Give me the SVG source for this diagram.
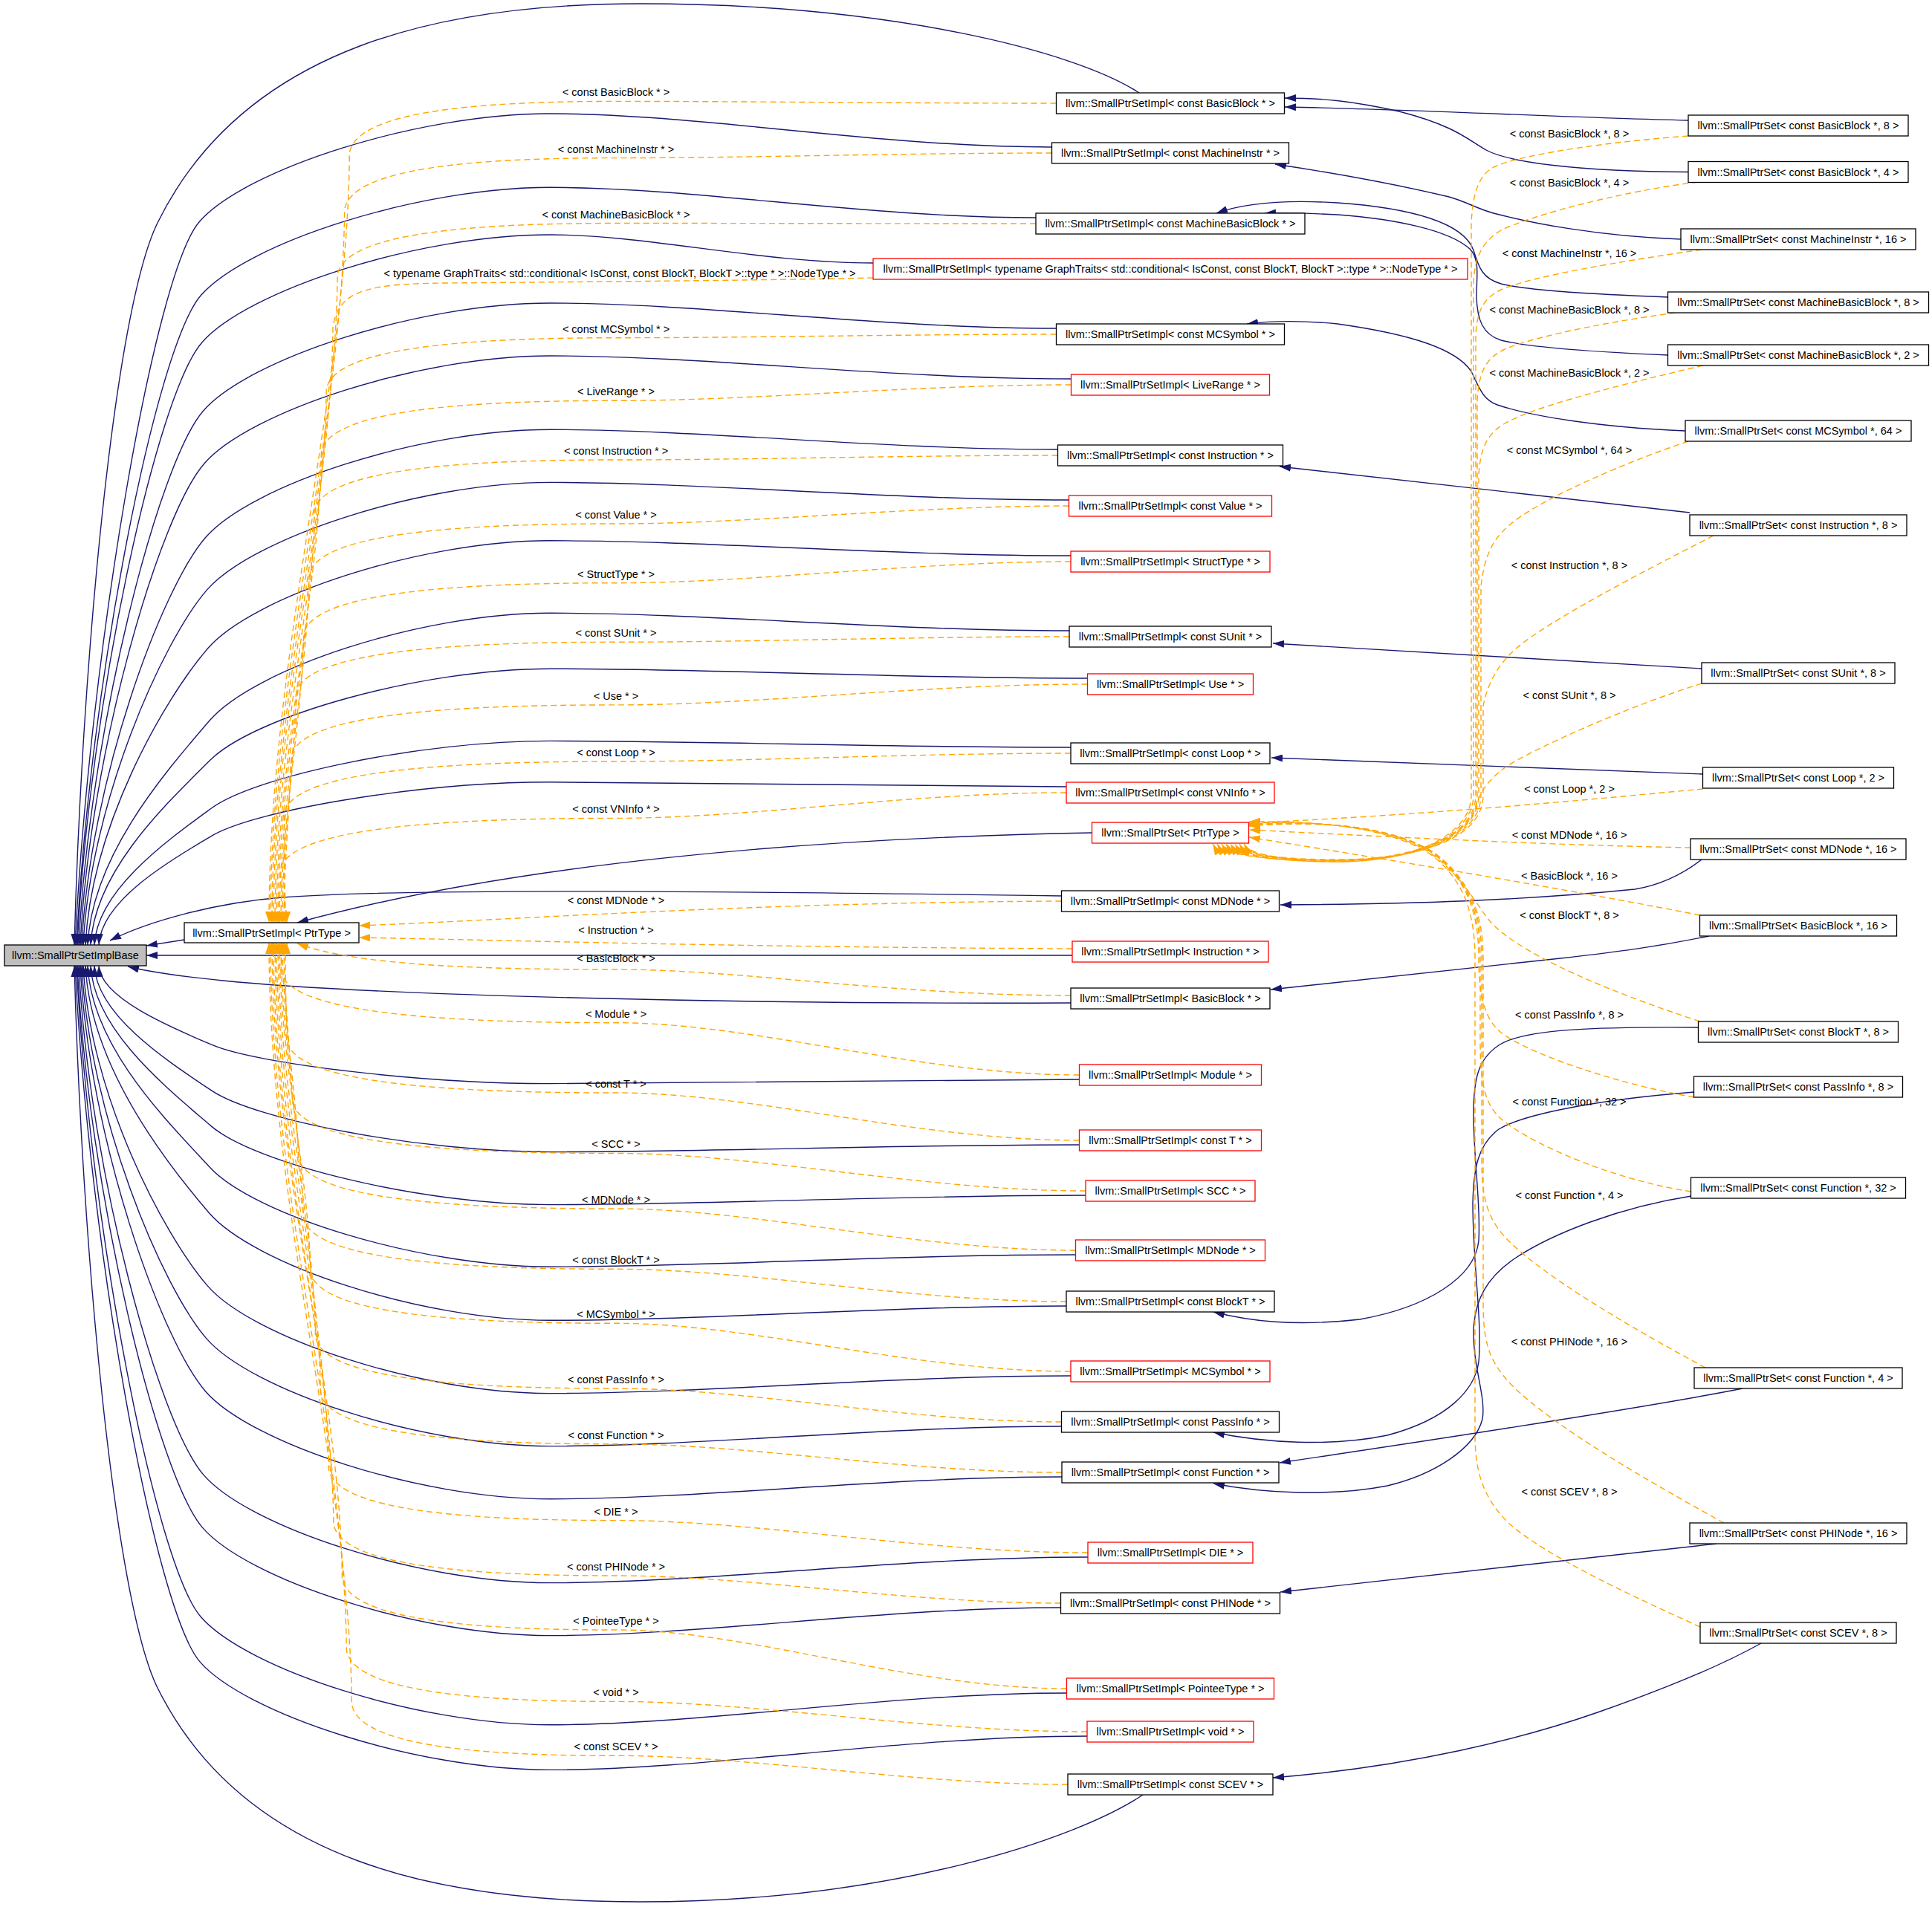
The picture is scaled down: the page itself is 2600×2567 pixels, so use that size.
<svg xmlns="http://www.w3.org/2000/svg" width="2600" height="2567" viewBox="0 0 2600 2567">
<defs>
<marker id="ab" viewBox="0 0 15 10" refX="15" refY="5" markerWidth="15" markerHeight="10" markerUnits="userSpaceOnUse" orient="auto"><path d="M0,0 L15,5 L0,10 z" fill="#191970" stroke="none"/></marker>
<marker id="ao" viewBox="0 0 15 10" refX="15" refY="5" markerWidth="15" markerHeight="10" markerUnits="userSpaceOnUse" orient="auto"><path d="M0,0 L15,5 L0,10 z" fill="#ffa500" stroke="none"/></marker>
<style>
.nd rect{fill:#fff;stroke:#000;stroke-width:1.3}
.nd.r rect{stroke:#ff0000}
.nd.base rect{fill:#bfbfbf}
text{font-family:"Liberation Sans",Arial,sans-serif;font-size:14.5px;text-anchor:middle;fill:#000}
.b{fill:none;stroke:#191970;stroke-width:1.4;marker-end:url(#ab)}
.o{fill:none;stroke:#ffa500;stroke-width:1.4;stroke-dasharray:8,5;marker-end:url(#ao)}
</style>
</defs>
<rect width="2600" height="2567" fill="#fff"/>
<g id="connectors">
<path class="b" d="M 1533,125 C 1450,70 1200,5 861,5 C 600,5 330,60 212,300 C 153,420 110,900 100,1272"/>
<path class="b" d="M 1415.5,198 C 1179,198 942.7,153 740,153 C 560.9,153 330,228.4 268.7,298 C 207.4,367.6 120.5,882.4 101,1272"/>
<path class="b" d="M 1394,293 C 1165,293 936,252.3 740,252.3 C 561.6,252.3 331.6,327.7 270.6,397.3 C 209.6,466.9 120.5,922 103,1272"/>
<path class="b" d="M 1175,354 C 1022.8,354 870.5,316 740,316 C 562.1,316 332.7,391.4 271.8,461 C 210.9,530.6 120.2,947.6 104,1272"/>
<path class="b" d="M 1421.5,442 C 1183,442 944.5,408 740,408 C 562.8,408 334.2,483.4 273.6,553 C 213,622.6 120.4,984.4 106,1272"/>
<path class="b" d="M 1441.5,510 C 1196,510 950.5,479 740,479 C 563.3,479 335.4,554.4 274.9,624 C 214.4,693.6 121,1012.8 108,1272"/>
<path class="b" d="M 1423.5,605 C 1184.3,605 945,578.3 740,578.3 C 564,578.3 337,653.7 276.8,723.3 C 216.6,792.9 121,1052.5 110,1272"/>
<path class="b" d="M 1438.5,673 C 1194,673 949.6,649.4 740,649.4 C 564.5,649.4 338.2,724.8 278.2,794.4 C 218.2,864 121.6,1081 112,1272"/>
<path class="b" d="M 1441,748 C 1195.6,748 950.3,727.8 740,727.8 C 565.1,727.8 339.5,803.2 279.7,872.8 C 219.9,942.4 123,1112.3 115,1272"/>
<path class="b" d="M 1439,849 C 1194.3,849 949.7,825.3 740,825.3 C 565.8,825.3 341.3,900.7 281.7,970.3 C 222.1,1039.9 124,1151.3 118,1272"/>
<path class="b" d="M 1463.5,913 C 1210.3,913 957,900.2 740,900.2 C 566.3,900.2 342.4,964.1 283,1023.1 C 223.6,1082.1 127,1172.4 122,1272"/>
<path class="b" d="M 1441,1006 C 1195.6,1006 950.3,997.4 740,997.4 C 567,997.4 344,1044.4 284.8,1087.7 C 225.6,1131 130.7,1198.3 127,1272"/>
<path class="b" d="M 1435,1059 C 1191.7,1059 948.5,1052.8 740,1052.8 C 567.4,1052.8 344.9,1090.2 285.9,1124.6 C 226.9,1159 136,1213 133,1272"/>
<path class="b" d="M 1428.5,1206 C 1000,1200 550,1195 380,1208 C 290,1215 200,1240 148,1266"/>
<path class="b" d="M 248,1265 L 197,1273"/>
<path class="b" d="M 1443,1286 L 197,1286"/>
<path class="b" d="M 1441,1350 C 1000,1352 500,1340 300,1320 C 240,1314 200,1308 172,1301"/>
<path class="b" d="M 1452.5,1453 C 1203.1,1453 953.8,1458.6 740,1458.6 C 567.9,1458.6 346,1431.9 287.1,1407.2 C 228.2,1382.5 135.1,1342.9 133,1300"/>
<path class="b" d="M 1452.5,1541 C 1203.1,1541 953.8,1550.6 740,1550.6 C 567.2,1550.6 344.4,1507.9 285.3,1468.4 C 226.2,1428.9 130.4,1367.4 127,1300"/>
<path class="b" d="M 1461,1609 C 1208.6,1609 956.3,1621.6 740,1621.6 C 566.7,1621.6 343.2,1566.5 283.9,1515.6 C 224.6,1464.7 126.3,1386.2 122,1300"/>
<path class="b" d="M 1447.5,1689 C 1199.9,1689 952.3,1705.2 740,1705.2 C 566.1,1705.2 341.8,1635.5 282.3,1571.2 C 222.8,1506.9 123.4,1408.5 118,1300"/>
<path class="b" d="M 1435,1758 C 1191.7,1758 948.5,1777.3 740,1777.3 C 565.6,1777.3 340.7,1701.9 281,1632.3 C 221.3,1562.7 121.6,1432.9 115,1300"/>
<path class="b" d="M 1441,1852 C 1195.6,1852 950.3,1875.6 740,1875.6 C 564.9,1875.6 339,1800.2 279.1,1730.6 C 219.2,1661 120.6,1472.2 112,1300"/>
<path class="b" d="M 1428.5,1920 C 1187.5,1920 946.6,1946.6 740,1946.6 C 564.3,1946.6 337.8,1871.2 277.7,1801.6 C 217.6,1732 120,1500.6 110,1300"/>
<path class="b" d="M 1429,1988 C 1187.8,1988 946.7,2017.7 740,2017.7 C 563.8,2017.7 336.7,1942.3 276.4,1872.7 C 216.1,1803.1 119.5,1529.1 108,1300"/>
<path class="b" d="M 1464,2096 C 1210.6,2096 957.2,2130.6 740,2130.6 C 563,2130.6 334.8,2055.2 274.2,1985.6 C 213.6,1916 119.7,1574.2 106,1300"/>
<path class="b" d="M 1427.5,2164 C 1186.9,2164 946.3,2201.6 740,2201.6 C 562.5,2201.6 333.5,2126.2 272.8,2056.6 C 212.1,1987 119.1,1602.6 104,1300"/>
<path class="b" d="M 1435.5,2279 C 1192.1,2279 948.7,2321.8 740,2321.8 C 561.6,2321.8 331.5,2246.4 270.5,2176.8 C 209.5,2107.2 120.5,1650.7 103,1300"/>
<path class="b" d="M 1463,2337 C 1210,2337 956.9,2382.4 740,2382.4 C 561.2,2382.4 330.6,2307 269.4,2237.4 C 208.2,2167.8 119.7,1675 101,1300"/>
<path class="b" d="M 1538,2416 C 1450,2475 1200,2560 861,2560 C 600,2560 330,2510 212,2272 C 153,2152 110,1672 100,1300"/>
<path class="b" d="M 1469.5,1121 C 1100,1128 700,1160 400,1242"/>
<path class="o" d="M 1421.5,139 C 1214.1,139 1006.8,136.4 829,136.4 C 649.7,136.4 478.3,148.4 470.3,206.4 C 468.3,517.1 362,879.5 362,1242"/>
<path class="o" d="M 1415.5,206 C 1210.2,206 1005,212.6 829,212.6 C 646.3,212.6 471.6,224.6 463.6,282.6 C 461.6,570.4 364,906.2 364,1242"/>
<path class="o" d="M 1394,301 C 1196.3,301 998.5,300.5 829,300.5 C 641.6,300.5 462.1,312.5 454.1,370.5 C 452.1,631.9 366,937 366,1242"/>
<path class="o" d="M 1175,374 C 1000,378 700,380 600,381 C 490,382 456,392 448,440 C 446,680 368,955 368,1242"/>
<path class="o" d="M 1421.5,450 C 1214.1,450 1006.8,454.7 829,454.7 C 634.1,454.7 447.2,466.7 439.2,524.7 C 437.2,739.9 370,990.9 370,1242"/>
<path class="o" d="M 1441.5,518 C 1227.1,518 1012.75,539.3 829,539.3 C 630.7,539.3 440.4,551.3 432.4,609.3 C 430.4,799.1 372,1020.6 372,1242"/>
<path class="o" d="M 1423.5,613 C 1215.4,613 1007.4,619 829,619 C 625.9,619 430.9,631 422.9,689 C 420.9,854.9 374,1048.5 374,1242"/>
<path class="o" d="M 1438.5,681 C 1225.2,681 1011.9,705 829,705 C 622.6,705 424.1,717 416.1,775 C 414.1,915.1 376,1078.6 376,1242"/>
<path class="o" d="M 1441,756 C 1226.8,756 1012.6,784.7 829,784.7 C 618.8,784.7 416.6,796.7 408.6,854.7 C 406.6,970.9 378,1106.4 378,1242"/>
<path class="o" d="M 1439,857 C 1225.5,857 1012,864.3 829,864.3 C 613.75,864.3 406.5,876.3 398.5,934.3 C 396.5,1026.6 380,1134.3 380,1242"/>
<path class="o" d="M 1463.5,921 C 1241.4,921 1019.35,948.9 829,948.9 C 610.55,948.9 400.1,960.9 392.1,1018.9 C 390.1,1085.8 382,1163.9 382,1242"/>
<path class="o" d="M 1441,1014 C 1226.8,1014 1012.6,1025 829,1025 C 605.9,1025 390.8,1037 382.8,1095 C 380.8,1139.1 384,1190.55 384,1242"/>
<path class="o" d="M 1435,1067 C 1222.9,1067 1010.8,1101.4 829,1101.4 C 603.25,1101.4 385.5,1113.4 377.5,1171.4 C 375.5,1192.6 386,1217.3 386,1242"/>
<path class="o" d="M 1428.5,1213 C 1000,1215 700,1238 483,1246"/>
<path class="o" d="M 1443,1277 C 1000,1275 700,1266 483,1262"/>
<path class="o" d="M 1441,1340 C 1200,1340 1000,1305 829,1305 C 650,1305 480,1300 400,1270"/>
<path class="o" d="M 1452.5,1447 C 1234.3,1447 1016,1376.7 829,1376.7 C 603.4,1376.7 385.8,1364.7 377.8,1306.7 C 375.8,1295.4 386,1282.2 386,1269"/>
<path class="o" d="M 1452.5,1535 C 1234.3,1535 1016,1471 829,1471 C 607.8,1471 394.6,1459 386.6,1401 C 384.6,1361.4 384,1315.2 384,1269"/>
<path class="o" d="M 1461,1603 C 1239.8,1603 1018.6,1552.5 829,1552.5 C 611.2,1552.5 401.4,1540.5 393.4,1482.5 C 391.4,1418.5 382,1343.7 382,1269"/>
<path class="o" d="M 1447.5,1683 C 1231,1683 1014.55,1627 829,1627 C 615.2,1627 409.4,1615 401.4,1557 C 399.4,1470.6 380,1369.8 380,1269"/>
<path class="o" d="M 1435,1752 C 1222.9,1752 1010.8,1708.3 829,1708.3 C 618.65,1708.3 416.3,1696.3 408.3,1638.3 C 406.3,1527.5 378,1398.3 378,1269"/>
<path class="o" d="M 1441,1846 C 1226.8,1846 1012.6,1781.3 829,1781.3 C 623.35,1781.3 425.7,1769.3 417.7,1711.3 C 415.7,1578.6 376,1423.8 376,1269"/>
<path class="o" d="M 1428.5,1914 C 1218.7,1914 1008.85,1869 829,1869 C 626.75,1869 432.5,1857 424.5,1799 C 422.5,1640 374,1454.5 374,1269"/>
<path class="o" d="M 1429,1982 C 1219,1982 1009,1943.8 829,1943.8 C 630.15,1943.8 439.3,1931.8 431.3,1873.8 C 429.3,1692.4 372,1480.7 372,1269"/>
<path class="o" d="M 1464,2090 C 1241.75,2090 1019.5,2046.6 829,2046.6 C 635.55,2046.6 450.1,2034.6 442.1,1976.6 C 440.1,1764.3 370,1516.7 370,1269"/>
<path class="o" d="M 1427.5,2158 C 1218,2158 1008.55,2121 829,2121 C 638.95,2121 456.9,2109 448.9,2051 C 446.9,1816.4 368,1542.7 368,1269"/>
<path class="o" d="M 1435.5,2273 C 1223.2,2273 1011,2194 829,2194 C 644.7,2194 468.4,2182 460.4,2124 C 458.4,1867.5 366,1568.25 366,1269"/>
<path class="o" d="M 1463,2331 C 1241.1,2331 1019.2,2290.4 829,2290.4 C 647.6,2290.4 474.2,2278.4 466.2,2220.4 C 464.2,1935 364,1602 364,1269"/>
<path class="o" d="M 1437,2402 C 1224.2,2402 1011.4,2363.3 829,2363.3 C 651.15,2363.3 481.3,2351.3 473.3,2293.3 C 471.3,1986 362,1627.5 362,1269"/>
<path class="b" d="M 2272,162 C 2100,158 1900,147 1729,144"/>
<path class="b" d="M 2272,231.5 C 2120,231 2030,218 2000,202 C 1975,188 1960,170 1883,150 C 1820,136 1780,132 1729,132"/>
<path class="b" d="M 2262,322 C 2150,318 2060,300 2010,287 C 1985,280 1975,272 1950,265 C 1870,246 1790,232 1716,221"/>
<path class="b" d="M 2245,400 C 2150,396 2060,392 2020,382 C 1995,375 1990,360 1983,337 C 1970,300 1900,280 1800,273 C 1720,268 1670,275 1637,287"/>
<path class="b" d="M 2245,478 C 2150,474 2060,468 2020,458 C 1995,450 1988,430 1987,400 C 1987,370 1992,350 1978,335 C 1950,310 1880,295 1800,289 C 1760,287 1730,286 1702,287"/>
<path class="b" d="M 2268,580 C 2150,575 2060,560 2015,545 C 1995,538 1990,520 1980,500 C 1960,470 1900,450 1800,436 C 1750,431 1710,432 1678,436"/>
<path class="b" d="M 2274,690 C 2100,670 1900,648 1722,628"/>
<path class="b" d="M 2290,900 C 2100,889 1900,877 1713,866"/>
<path class="b" d="M 2291,1042 C 2100,1035 1900,1027 1711,1020"/>
<path class="b" d="M 2290,1157 C 2260,1180 2230,1192 2200,1197 C 2050,1212 1900,1217 1723,1218"/>
<path class="b" d="M 2300,1260 C 2250,1270 2200,1279 2100,1290 C 1950,1306 1800,1322 1710,1332"/>
<path class="b" d="M 2285,1383 C 2150,1382 2050,1385 2017,1407 C 1990,1425 1983,1450 1983,1500 C 1983,1560 1993,1620 1990,1670 C 1985,1720 1920,1760 1830,1776 C 1740,1786 1680,1778 1633,1766"/>
<path class="b" d="M 2280,1470 C 2150,1480 2050,1500 2017,1520 C 1990,1540 1983,1570 1982,1620 C 1982,1700 1995,1780 1990,1833 C 1985,1870 1950,1910 1867,1932 C 1790,1948 1700,1942 1633,1928"/>
<path class="b" d="M 2276,1610 C 2180,1625 2090,1660 2040,1693 C 2000,1720 1985,1750 1983,1790 C 1982,1840 2000,1880 1995,1910 C 1985,1950 1930,1985 1867,2000 C 1790,2015 1700,2010 1633,1997"/>
<path class="b" d="M 2345,1869 C 2250,1888 2000,1928 1722,1969"/>
<path class="b" d="M 2310,2078 C 2250,2086 2000,2112 1723,2143"/>
<path class="b" d="M 2370,2212 C 2320,2240 2250,2270 2150,2305 C 2050,2340 1900,2378 1713,2393"/>
<path class="o" d="M 2272,183 C 2150,192 2040,210 2010,225 C 1990,236 1982,260 1980,300 L 1980,1070 C 1980,1125 1900,1160 1800,1160 C 1720,1160 1640,1150 1632,1136"/>
<path class="o" d="M 2285,245 C 2180,258 2060,290 2020,310 C 1995,325 1985,345 1983,380 L 1983,1070 C 1983,1125 1902,1160 1800,1160 C 1720,1160 1646,1150 1638,1136"/>
<path class="o" d="M 2290,336 C 2180,352 2060,372 2020,390 C 1995,402 1988,420 1986,450 L 1986,1070 C 1986,1126 1904,1159 1800,1159 C 1720,1159 1652,1150 1644,1136"/>
<path class="o" d="M 2255,421 C 2150,435 2060,455 2025,470 C 2000,482 1990,500 1988,540 L 1988,1070 C 1988,1126 1906,1159 1800,1159 C 1720,1159 1658,1150 1650,1136"/>
<path class="o" d="M 2292,492 C 2150,525 2060,550 2025,570 C 2000,585 1992,605 1990,640 L 1990,1070 C 1990,1127 1908,1158 1800,1158 C 1720,1158 1664,1150 1656,1136"/>
<path class="o" d="M 2272,594 C 2180,625 2080,670 2040,700 C 2010,722 1998,745 1993,790 L 1993,1070 C 1993,1127 1910,1158 1800,1158 C 1720,1158 1670,1150 1662,1136"/>
<path class="o" d="M 2306,721 C 2200,775 2100,828 2050,865 C 2020,888 2003,915 1996,950 L 1996,1070 C 1996,1128 1912,1157 1800,1157 C 1720,1157 1676,1150 1668,1136"/>
<path class="o" d="M 2290,920 C 2200,948 2080,1000 2030,1030 C 2000,1050 1990,1070 1985,1090 C 1975,1125 1900,1158 1800,1158 C 1720,1158 1682,1150 1674,1136"/>
<path class="o" d="M 2292,1062 C 2150,1075 1950,1095 1681,1108"/>
<path class="o" d="M 2275,1141 C 2100,1138 1900,1128 1681,1117"/>
<path class="o" d="M 2288,1232 C 2150,1205 1950,1170 1681,1127"/>
<path class="o" d="M 2288,1375 C 2150,1330 2040,1280 2005,1240 C 1985,1215 1965,1175 1920,1145 C 1870,1115 1780,1104 1681,1108"/>
<path class="o" d="M 2280,1477 C 2180,1460 2060,1420 2020,1390 C 1998,1372 1990,1340 1990,1290 C 1990,1230 1975,1185 1930,1150 C 1880,1115 1790,1104 1681,1109"/>
<path class="o" d="M 2276,1604 C 2180,1590 2070,1545 2025,1510 C 1998,1490 1992,1460 1992,1400 L 1992,1290 C 1992,1230 1976,1185 1931,1150 C 1881,1115 1790,1104 1681,1110"/>
<path class="o" d="M 2295,1841 C 2200,1790 2080,1720 2030,1670 C 2000,1640 1994,1610 1994,1560 L 1994,1290 C 1994,1230 1977,1185 1932,1150 C 1882,1115 1790,1103 1681,1111"/>
<path class="o" d="M 2320,2050 C 2220,1995 2090,1920 2035,1865 C 2000,1830 1996,1800 1996,1750 L 1996,1290 C 1996,1230 1978,1185 1933,1150 C 1883,1115 1790,1103 1681,1112"/>
<path class="o" d="M 2288,2190 C 2200,2150 2080,2095 2030,2050 C 1995,2015 1985,1980 1985,1930 L 1985,1290 C 1985,1230 1970,1185 1928,1152 C 1880,1118 1790,1104 1681,1106"/>
</g>
<g id="edge-labels">
<text x="829" y="129">&lt; const BasicBlock * &gt;</text>
<text x="829" y="206">&lt; const MachineInstr * &gt;</text>
<text x="829" y="294">&lt; const MachineBasicBlock * &gt;</text>
<text x="834" y="373">&lt; typename GraphTraits&lt; std::conditional&lt; IsConst, const BlockT, BlockT &gt;::type * &gt;::NodeType * &gt;</text>
<text x="829" y="448">&lt; const MCSymbol * &gt;</text>
<text x="829" y="532">&lt; LiveRange * &gt;</text>
<text x="829" y="612">&lt; const Instruction * &gt;</text>
<text x="829" y="698">&lt; const Value * &gt;</text>
<text x="829" y="778">&lt; StructType * &gt;</text>
<text x="829" y="857">&lt; const SUnit * &gt;</text>
<text x="829" y="942">&lt; Use * &gt;</text>
<text x="829" y="1018">&lt; const Loop * &gt;</text>
<text x="829" y="1094">&lt; const VNInfo * &gt;</text>
<text x="829" y="1217">&lt; const MDNode * &gt;</text>
<text x="829" y="1257">&lt; Instruction * &gt;</text>
<text x="829" y="1295">&lt; BasicBlock * &gt;</text>
<text x="829" y="1370">&lt; Module * &gt;</text>
<text x="829" y="1464">&lt; const T * &gt;</text>
<text x="829" y="1545">&lt; SCC * &gt;</text>
<text x="829" y="1620">&lt; MDNode * &gt;</text>
<text x="829" y="1701">&lt; const BlockT * &gt;</text>
<text x="829" y="1774">&lt; MCSymbol * &gt;</text>
<text x="829" y="1862">&lt; const PassInfo * &gt;</text>
<text x="829" y="1937">&lt; const Function * &gt;</text>
<text x="829" y="2040">&lt; DIE * &gt;</text>
<text x="829" y="2114">&lt; const PHINode * &gt;</text>
<text x="829" y="2187">&lt; PointeeType * &gt;</text>
<text x="829" y="2283">&lt; void * &gt;</text>
<text x="829" y="2356">&lt; const SCEV * &gt;</text>
<text x="2112" y="185">&lt; const BasicBlock *, 8 &gt;</text>
<text x="2112" y="251">&lt; const BasicBlock *, 4 &gt;</text>
<text x="2112" y="346">&lt; const MachineInstr *, 16 &gt;</text>
<text x="2112" y="422">&lt; const MachineBasicBlock *, 8 &gt;</text>
<text x="2112" y="507">&lt; const MachineBasicBlock *, 2 &gt;</text>
<text x="2112" y="611">&lt; const MCSymbol *, 64 &gt;</text>
<text x="2112" y="766">&lt; const Instruction *, 8 &gt;</text>
<text x="2112" y="941">&lt; const SUnit *, 8 &gt;</text>
<text x="2112" y="1067">&lt; const Loop *, 2 &gt;</text>
<text x="2112" y="1129">&lt; const MDNode *, 16 &gt;</text>
<text x="2112" y="1184">&lt; BasicBlock *, 16 &gt;</text>
<text x="2112" y="1237">&lt; const BlockT *, 8 &gt;</text>
<text x="2112" y="1371">&lt; const PassInfo *, 8 &gt;</text>
<text x="2112" y="1488">&lt; const Function *, 32 &gt;</text>
<text x="2112" y="1614">&lt; const Function *, 4 &gt;</text>
<text x="2112" y="1811">&lt; const PHINode *, 16 &gt;</text>
<text x="2112" y="2013">&lt; const SCEV *, 8 &gt;</text>
</g>
<g id="node-base" class="nd base"><rect x="6" y="1272" width="191" height="28"/><text x="101.5" y="1291">llvm::SmallPtrSetImplBase</text></g>
<g id="node-impl-ptrtype" class="nd"><rect x="248" y="1242" width="235" height="27"/><text x="365.5" y="1260.5">llvm::SmallPtrSetImpl&lt; PtrType &gt;</text></g>
<g id="node-m1" class="nd"><rect x="1421.5" y="125" width="307" height="28"/><text x="1575" y="144">llvm::SmallPtrSetImpl&lt; const BasicBlock * &gt;</text></g>
<g id="node-m2" class="nd"><rect x="1415.5" y="192" width="319" height="28"/><text x="1575" y="211">llvm::SmallPtrSetImpl&lt; const MachineInstr * &gt;</text></g>
<g id="node-m3" class="nd"><rect x="1394" y="287" width="362" height="28"/><text x="1575" y="306">llvm::SmallPtrSetImpl&lt; const MachineBasicBlock * &gt;</text></g>
<g id="node-m4" class="nd r"><rect x="1175" y="348" width="800" height="28"/><text x="1575" y="367">llvm::SmallPtrSetImpl&lt; typename GraphTraits&lt; std::conditional&lt; IsConst, const BlockT, BlockT &gt;::type * &gt;::NodeType * &gt;</text></g>
<g id="node-m5" class="nd"><rect x="1421.5" y="436" width="307" height="28"/><text x="1575" y="455">llvm::SmallPtrSetImpl&lt; const MCSymbol * &gt;</text></g>
<g id="node-m6" class="nd r"><rect x="1441.5" y="504" width="267" height="28"/><text x="1575" y="523">llvm::SmallPtrSetImpl&lt; LiveRange * &gt;</text></g>
<g id="node-m7" class="nd"><rect x="1423.5" y="599" width="303" height="28"/><text x="1575" y="618">llvm::SmallPtrSetImpl&lt; const Instruction * &gt;</text></g>
<g id="node-m8" class="nd r"><rect x="1438.5" y="667" width="273" height="28"/><text x="1575" y="686">llvm::SmallPtrSetImpl&lt; const Value * &gt;</text></g>
<g id="node-m9" class="nd r"><rect x="1441" y="742" width="268" height="28"/><text x="1575" y="761">llvm::SmallPtrSetImpl&lt; StructType * &gt;</text></g>
<g id="node-m10" class="nd"><rect x="1439" y="843" width="272" height="28"/><text x="1575" y="862">llvm::SmallPtrSetImpl&lt; const SUnit * &gt;</text></g>
<g id="node-m11" class="nd r"><rect x="1463.5" y="907" width="223" height="28"/><text x="1575" y="926">llvm::SmallPtrSetImpl&lt; Use * &gt;</text></g>
<g id="node-m12" class="nd"><rect x="1441" y="1000" width="268" height="28"/><text x="1575" y="1019">llvm::SmallPtrSetImpl&lt; const Loop * &gt;</text></g>
<g id="node-m13" class="nd r"><rect x="1435" y="1053" width="280" height="28"/><text x="1575" y="1072">llvm::SmallPtrSetImpl&lt; const VNInfo * &gt;</text></g>
<g id="node-m14" class="nd r"><rect x="1469.5" y="1107" width="211" height="28"/><text x="1575" y="1126">llvm::SmallPtrSet&lt; PtrType &gt;</text></g>
<g id="node-m15" class="nd"><rect x="1428.5" y="1199" width="293" height="28"/><text x="1575" y="1218">llvm::SmallPtrSetImpl&lt; const MDNode * &gt;</text></g>
<g id="node-m16" class="nd r"><rect x="1443" y="1267" width="264" height="28"/><text x="1575" y="1286">llvm::SmallPtrSetImpl&lt; Instruction * &gt;</text></g>
<g id="node-m17" class="nd"><rect x="1441" y="1330" width="268" height="28"/><text x="1575" y="1349">llvm::SmallPtrSetImpl&lt; BasicBlock * &gt;</text></g>
<g id="node-m18" class="nd r"><rect x="1452.5" y="1433" width="245" height="28"/><text x="1575" y="1452">llvm::SmallPtrSetImpl&lt; Module * &gt;</text></g>
<g id="node-m19" class="nd r"><rect x="1452.5" y="1521" width="245" height="28"/><text x="1575" y="1540">llvm::SmallPtrSetImpl&lt; const T * &gt;</text></g>
<g id="node-m20" class="nd r"><rect x="1461" y="1589" width="228" height="28"/><text x="1575" y="1608">llvm::SmallPtrSetImpl&lt; SCC * &gt;</text></g>
<g id="node-m21" class="nd r"><rect x="1447.5" y="1669" width="255" height="28"/><text x="1575" y="1688">llvm::SmallPtrSetImpl&lt; MDNode * &gt;</text></g>
<g id="node-m22" class="nd"><rect x="1435" y="1738" width="280" height="28"/><text x="1575" y="1757">llvm::SmallPtrSetImpl&lt; const BlockT * &gt;</text></g>
<g id="node-m23" class="nd r"><rect x="1441" y="1832" width="268" height="28"/><text x="1575" y="1851">llvm::SmallPtrSetImpl&lt; MCSymbol * &gt;</text></g>
<g id="node-m24" class="nd"><rect x="1428.5" y="1900" width="293" height="28"/><text x="1575" y="1919">llvm::SmallPtrSetImpl&lt; const PassInfo * &gt;</text></g>
<g id="node-m25" class="nd"><rect x="1429" y="1968" width="292" height="28"/><text x="1575" y="1987">llvm::SmallPtrSetImpl&lt; const Function * &gt;</text></g>
<g id="node-m26" class="nd r"><rect x="1464" y="2076" width="222" height="28"/><text x="1575" y="2095">llvm::SmallPtrSetImpl&lt; DIE * &gt;</text></g>
<g id="node-m27" class="nd"><rect x="1427.5" y="2144" width="295" height="28"/><text x="1575" y="2163">llvm::SmallPtrSetImpl&lt; const PHINode * &gt;</text></g>
<g id="node-m28" class="nd r"><rect x="1435.5" y="2259" width="279" height="28"/><text x="1575" y="2278">llvm::SmallPtrSetImpl&lt; PointeeType * &gt;</text></g>
<g id="node-m29" class="nd r"><rect x="1463" y="2317" width="224" height="28"/><text x="1575" y="2336">llvm::SmallPtrSetImpl&lt; void * &gt;</text></g>
<g id="node-m30" class="nd"><rect x="1437" y="2388" width="276" height="28"/><text x="1575" y="2407">llvm::SmallPtrSetImpl&lt; const SCEV * &gt;</text></g>
<g id="node-r1" class="nd"><rect x="2272" y="155" width="296" height="28"/><text x="2420" y="174">llvm::SmallPtrSet&lt; const BasicBlock *, 8 &gt;</text></g>
<g id="node-r2" class="nd"><rect x="2272" y="217.5" width="296" height="28"/><text x="2420" y="236.5">llvm::SmallPtrSet&lt; const BasicBlock *, 4 &gt;</text></g>
<g id="node-r3" class="nd"><rect x="2262" y="308" width="316" height="28"/><text x="2420" y="327">llvm::SmallPtrSet&lt; const MachineInstr *, 16 &gt;</text></g>
<g id="node-r4" class="nd"><rect x="2244.5" y="393" width="351" height="28"/><text x="2420" y="412">llvm::SmallPtrSet&lt; const MachineBasicBlock *, 8 &gt;</text></g>
<g id="node-r5" class="nd"><rect x="2244.5" y="464" width="351" height="28"/><text x="2420" y="483">llvm::SmallPtrSet&lt; const MachineBasicBlock *, 2 &gt;</text></g>
<g id="node-r6" class="nd"><rect x="2268" y="566" width="304" height="28"/><text x="2420" y="585">llvm::SmallPtrSet&lt; const MCSymbol *, 64 &gt;</text></g>
<g id="node-r7" class="nd"><rect x="2274" y="693" width="292" height="28"/><text x="2420" y="712">llvm::SmallPtrSet&lt; const Instruction *, 8 &gt;</text></g>
<g id="node-r8" class="nd"><rect x="2290" y="892" width="260" height="28"/><text x="2420" y="911">llvm::SmallPtrSet&lt; const SUnit *, 8 &gt;</text></g>
<g id="node-r9" class="nd"><rect x="2291.5" y="1033" width="257" height="28"/><text x="2420" y="1052">llvm::SmallPtrSet&lt; const Loop *, 2 &gt;</text></g>
<g id="node-r10" class="nd"><rect x="2275" y="1129" width="290" height="28"/><text x="2420" y="1148">llvm::SmallPtrSet&lt; const MDNode *, 16 &gt;</text></g>
<g id="node-r11" class="nd"><rect x="2287.5" y="1232" width="265" height="28"/><text x="2420" y="1251">llvm::SmallPtrSet&lt; BasicBlock *, 16 &gt;</text></g>
<g id="node-r12" class="nd"><rect x="2285.5" y="1375" width="269" height="28"/><text x="2420" y="1394">llvm::SmallPtrSet&lt; const BlockT *, 8 &gt;</text></g>
<g id="node-r13" class="nd"><rect x="2279.5" y="1449" width="281" height="28"/><text x="2420" y="1468">llvm::SmallPtrSet&lt; const PassInfo *, 8 &gt;</text></g>
<g id="node-r14" class="nd"><rect x="2275.5" y="1585" width="289" height="28"/><text x="2420" y="1604">llvm::SmallPtrSet&lt; const Function *, 32 &gt;</text></g>
<g id="node-r15" class="nd"><rect x="2280" y="1841" width="280" height="28"/><text x="2420" y="1860">llvm::SmallPtrSet&lt; const Function *, 4 &gt;</text></g>
<g id="node-r16" class="nd"><rect x="2274" y="2050" width="292" height="28"/><text x="2420" y="2069">llvm::SmallPtrSet&lt; const PHINode *, 16 &gt;</text></g>
<g id="node-r17" class="nd"><rect x="2288" y="2184" width="264" height="28"/><text x="2420" y="2203">llvm::SmallPtrSet&lt; const SCEV *, 8 &gt;</text></g>
</svg>
